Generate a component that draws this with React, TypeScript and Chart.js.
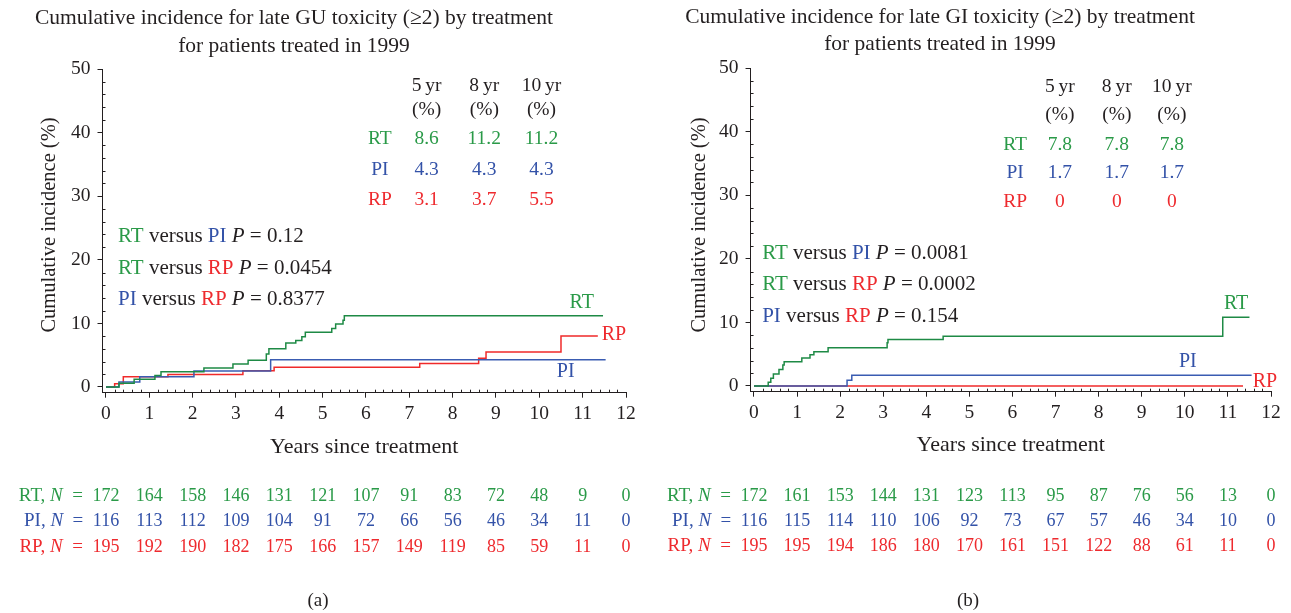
import React, { useEffect, useRef } from 'react';
import { Chart, registerables } from 'chart.js';

Chart.register(...registerables);

// ---------- data ----------
const yearTicks = [0, 1, 2, 3, 4, 5, 6, 7, 8, 9, 10, 11, 12];
const incidenceTicks = [0, 10, 20, 30, 40, 50];
const pctHeaders = ['5\u2009yr', '8\u2009yr', '10\u2009yr'];
const groupNames = ['RT', 'PI', 'RP'];

// GU panel (a)
const guRtTimes = [0, 0.3, 0.65, 1.13, 1.27, 2.26, 2.93, 3.28, 3.7, 3.76, 4.15, 4.38, 4.52, 4.6, 5.21, 5.3, 5.47, 5.5, 11.47];
const guRtValues = [0, 0.6, 1.2, 1.8, 2.4, 3.0, 3.6, 4.2, 5.2, 6.0, 6.9, 7.3, 7.9, 8.6, 9.2, 9.9, 10.5, 11.2, 11.2];
const guPiTimes = [0, 0.3, 0.78, 2.03, 3.8, 11.53];
const guPiValues = [0, 0.8, 1.6, 2.5, 4.3, 4.3];
const guRpTimes = [0, 0.2, 0.4, 1.43, 3.16, 3.88, 7.24, 8.6, 8.77, 10.5, 11.35];
const guRpValues = [0, 0.5, 1.6, 1.95, 2.55, 3.1, 3.7, 4.5, 5.5, 8.0, 8.0];
const guRtRisk = [172, 164, 158, 146, 131, 121, 107, 91, 83, 72, 48, 9, 0];
const guPiRisk = [116, 113, 112, 109, 104, 91, 72, 66, 56, 46, 34, 11, 0];
const guRpRisk = [195, 192, 190, 182, 175, 166, 157, 149, 119, 85, 59, 11, 0];
const guRtPct = ['8.6', '11.2', '11.2'];
const guPiPct = ['4.3', '4.3', '4.3'];
const guRpPct = ['3.1', '3.7', '5.5'];
const guPValues = ['0.12', '0.0454', '0.8377'];

// GI panel (b)
const giRtTimes = [0, 0.33, 0.39, 0.45, 0.58, 0.67, 0.7, 1.11, 1.3, 1.39, 1.72, 3.09, 3.11, 4.39, 10.88, 11.5];
const giRtValues = [0, 0.6, 1.2, 1.9, 2.6, 3.3, 3.8, 4.4, 4.9, 5.4, 6.0, 6.8, 7.3, 7.8, 10.8, 10.8];
const giPiTimes = [0, 2.16, 2.27, 11.55];
const giPiValues = [0, 0.9, 1.7, 1.7];
const giRpTimes = [0, 11.35];
const giRpValues = [0, 0];
const giRtRisk = [172, 161, 153, 144, 131, 123, 113, 95, 87, 76, 56, 13, 0];
const giPiRisk = [116, 115, 114, 110, 106, 92, 73, 67, 57, 46, 34, 10, 0];
const giRpRisk = [195, 195, 194, 186, 180, 170, 161, 151, 122, 88, 61, 11, 0];
const giRtPct = ['7.8', '7.8', '7.8'];
const giPiPct = ['1.7', '1.7', '1.7'];
const giRpPct = ['0', '0', '0'];
const giPValues = ['0.0081', '0.0002', '0.154'];

// ---------- styles ----------
const FAMILY = "'Liberation Serif', 'Times New Roman', serif";
const BLACK = '#231f20';
const TEXT_COLORS = ['#2a9a48', '#3352a8', '#ee2a2e'];
const LINE_COLORS = ['#1e8a45', '#3a5cb2', '#f02a2a'];
const H = 613;
const XH = 40;

type Seg = { t: string; c: string; i?: boolean };

function drawSegs(ctx: CanvasRenderingContext2D, segs: Seg[], x: number, y: number, align: 'left' | 'right' | 'center', size: number) {
  const fonts = segs.map((s) => `${s.i ? 'italic ' : ''}${size}px ${FAMILY}`);
  const widths = segs.map((s, k) => {
    ctx.font = fonts[k];
    return ctx.measureText(s.t).width;
  });
  const total = widths.reduce((a, b) => a + b, 0);
  let cx = align === 'left' ? x : align === 'right' ? x - total : x - total / 2;
  ctx.textAlign = 'left';
  ctx.textBaseline = 'middle';
  segs.forEach((s, k) => {
    ctx.font = fonts[k];
    ctx.fillStyle = s.c;
    ctx.fillText(s.t, cx, y);
    cx += widths[k];
  });
}

type Panel = {
  w: number;
  areaLeft: number;
  areaRight: number;
  areaTop: number;
  areaBottom: number;
  titles: string[];
  titleX: number;
  titleY: number[];
  yTitleX: number;
  yTitleY: number;
  xTitleY: number;
  caption: string;
  captionX: number;
  captionY: number;
  series: { times: number[]; values: number[] }[];
  risk: number[][];
  riskY: number[];
  pct: string[][];
  pctColX: number[];
  pctRowLabelX: number;
  pctHeadY: number[];
  pctRowY: number[];
  pValues: string[];
  pX: number;
  pY: number[];
  curveLabels: { x: number; y: number }[];
};

const pComparisons: [number, number][] = [
  [0, 1],
  [0, 2],
  [1, 2],
];

function overlay(panel: Panel) {
  return {
    id: 'overlay',
    afterDraw(chart: any) {
      const ctx: CanvasRenderingContext2D = chart.ctx;
      const xs = chart.scales.x;
      const ys = chart.scales.y;
      const area = chart.chartArea;
      ctx.save();
      // minor ticks
      ctx.strokeStyle = BLACK;
      ctx.lineWidth = 1;
      ctx.beginPath();
      for (let k = 1; k < 60; k++) {
        if (k % 5 === 0) continue;
        const px = Math.round(xs.getPixelForValue(k * 0.2)) + 0.5;
        ctx.moveTo(px, area.bottom);
        ctx.lineTo(px, area.bottom - 3);
      }
      for (let k = 1; k < 25; k++) {
        if (k % 5 === 0) continue;
        const py = Math.round(ys.getPixelForValue(k * 2)) + 0.5;
        ctx.moveTo(area.left, py);
        ctx.lineTo(area.left + 3, py);
      }
      ctx.stroke();

      // titles
      ctx.fillStyle = BLACK;
      ctx.textAlign = 'center';
      ctx.textBaseline = 'middle';
      ctx.font = `21.5px ${FAMILY}`;
      panel.titles.forEach((t, k) => ctx.fillText(t, panel.titleX, panel.titleY[k]));
      // x title
      ctx.font = `22px ${FAMILY}`;
      ctx.fillText('Years since treatment', (area.left + area.right) / 2, panel.xTitleY);
      // y title
      ctx.font = `20.5px ${FAMILY}`;
      ctx.save();
      ctx.translate(panel.yTitleX, panel.yTitleY);
      ctx.rotate(-Math.PI / 2);
      ctx.fillText('Cumulative incidence (%)', 0, 0);
      ctx.restore();
      // caption
      ctx.font = `19px ${FAMILY}`;
      ctx.fillText(panel.caption, panel.captionX, panel.captionY);

      // percent table
      ctx.font = `19.5px ${FAMILY}`;
      pctHeaders.forEach((h, k) => {
        const cx = xs.getPixelForValue(panel.pctColX[k]);
        ctx.fillStyle = BLACK;
        ctx.fillText(h, cx, ys.getPixelForValue(panel.pctHeadY[0]));
        ctx.fillText('(%)', cx, ys.getPixelForValue(panel.pctHeadY[1]));
      });
      panel.pct.forEach((row, r) => {
        const py = ys.getPixelForValue(panel.pctRowY[r]);
        ctx.fillStyle = TEXT_COLORS[r];
        ctx.fillText(groupNames[r], xs.getPixelForValue(panel.pctRowLabelX), py);
        row.forEach((v, k) => ctx.fillText(v, xs.getPixelForValue(panel.pctColX[k]), py));
      });

      // p-values
      panel.pValues.forEach((p, k) => {
        const [a, b] = pComparisons[k];
        drawSegs(
          ctx,
          [
            { t: groupNames[a], c: TEXT_COLORS[a] },
            { t: ' versus ', c: BLACK },
            { t: groupNames[b], c: TEXT_COLORS[b] },
            { t: ' ', c: BLACK },
            { t: 'P', c: BLACK, i: true },
            { t: ' = ' + p, c: BLACK },
          ],
          xs.getPixelForValue(panel.pX),
          ys.getPixelForValue(panel.pY[k]),
          'left',
          21
        );
      });

      // curve labels
      ctx.font = `20px ${FAMILY}`;
      ctx.textAlign = 'center';
      panel.curveLabels.forEach((l, k) => {
        ctx.fillStyle = TEXT_COLORS[k];
        ctx.fillText(groupNames[k], xs.getPixelForValue(l.x), ys.getPixelForValue(l.y));
      });

      // numbers at risk
      const rs = 18;
      panel.risk.forEach((row, r) => {
        const y = panel.riskY[r];
        ctx.font = `${rs}px ${FAMILY}`;
        ctx.textAlign = 'center';
        ctx.textBaseline = 'middle';
        ctx.fillStyle = TEXT_COLORS[r];
        row.forEach((n, k) => ctx.fillText(String(n), xs.getPixelForValue(yearTicks[k]), y));
        const firstW = ctx.measureText(String(row[0])).width;
        drawSegs(
          ctx,
          [
            { t: groupNames[r] + ', ', c: TEXT_COLORS[r] },
            { t: 'N', c: TEXT_COLORS[r], i: true },
            { t: '\u2002=\u2002', c: TEXT_COLORS[r] },
          ],
          xs.getPixelForValue(yearTicks[0]) - firstW / 2,
          y,
          'right',
          19
        );
      });
      ctx.restore();
    },
  };
}

function buildChart(canvas: HTMLCanvasElement, panel: Panel) {
  const tickFont = { family: FAMILY, size: 19.5 };
  const datasets = panel.series.map((s, k) => ({
    label: groupNames[k],
    data: s.times.map((t, i) => ({ x: t, y: s.values[i] })),
    borderColor: LINE_COLORS[k],
    borderWidth: 1.5,
    pointRadius: 0,
    stepped: 'before' as const,
    fill: false,
  }));
  return new Chart(canvas, {
    type: 'line',
    data: { datasets },
    options: {
      responsive: false,
      animation: false,
      layout: {
        padding: {
          left: 0,
          top: panel.areaTop,
          right: panel.w - panel.areaRight,
          bottom: H - panel.areaBottom - XH,
        },
      },
      plugins: { legend: { display: false }, tooltip: { enabled: false }, title: { display: false } },
      scales: {
        x: {
          type: 'linear',
          min: -0.08,
          max: 12,
          afterBuildTicks: (s: any) => {
            s.ticks = yearTicks.map((v) => ({ value: v }));
          },
          afterFit: (s: any) => {
            s.height = XH;
          },
          ticks: { font: tickFont, color: BLACK, padding: 4, maxRotation: 0, autoSkip: false },
          grid: { drawOnChartArea: false, drawTicks: true, tickLength: 5, color: BLACK },
          border: { display: true, color: BLACK, width: 1 },
        },
        y: {
          type: 'linear',
          min: -0.9,
          max: 50,
          afterBuildTicks: (s: any) => {
            s.ticks = incidenceTicks.map((v) => ({ value: v }));
          },
          afterFit: (s: any) => {
            s.width = panel.areaLeft;
          },
          ticks: { font: tickFont, color: BLACK, padding: 7 },
          grid: { drawOnChartArea: false, drawTicks: true, tickLength: 5, color: BLACK },
          border: { display: true, color: BLACK, width: 1 },
        },
      },
    },
    plugins: [overlay(panel)],
  } as any);
}

const panelA: Panel = {
  w: 645,
  areaLeft: 102.5,
  areaRight: 626,
  areaTop: 69,
  areaBottom: 392.7,
  titles: ['Cumulative incidence for late GU toxicity (\u22652) by treatment', 'for patients treated in 1999'],
  titleX: 294,
  titleY: [18, 46],
  yTitleX: 50,
  yTitleY: 225,
  xTitleY: 447,
  caption: '(a)',
  captionX: 318,
  captionY: 601,
  series: [
    { times: guRtTimes, values: guRtValues },
    { times: guPiTimes, values: guPiValues },
    { times: guRpTimes, values: guRpValues },
  ],
  risk: [guRtRisk, guPiRisk, guRpRisk],
  riskY: [496, 521, 547],
  pct: [guRtPct, guPiPct, guRpPct],
  pctColX: [7.4, 8.73, 10.05],
  pctRowLabelX: 6.32,
  pctHeadY: [47.3, 43.6],
  pctRowY: [39.0, 34.1, 29.4],
  pValues: guPValues,
  pX: 0.28,
  pY: [23.7, 18.7, 13.8],
  curveLabels: [
    { x: 10.98, y: 13.2 },
    { x: 10.61, y: 2.36 },
    { x: 11.72, y: 8.2 },
  ],
};

const panelB: Panel = {
  w: 646,
  areaLeft: 105.55,
  areaRight: 626,
  areaTop: 68,
  areaBottom: 391.7,
  titles: ['Cumulative incidence for late GI toxicity (\u22652) by treatment', 'for patients treated in 1999'],
  titleX: 295,
  titleY: [17, 44],
  yTitleX: 55,
  yTitleY: 225,
  xTitleY: 445,
  caption: '(b)',
  captionX: 323,
  captionY: 601,
  series: [
    { times: giRtTimes, values: giRtValues },
    { times: giPiTimes, values: giPiValues },
    { times: giRpTimes, values: giRpValues },
  ],
  risk: [giRtRisk, giPiRisk, giRpRisk],
  riskY: [496, 521, 546],
  pct: [giRtPct, giPiPct, giRpPct],
  pctColX: [7.1, 8.42, 9.7],
  pctRowLabelX: 6.06,
  pctHeadY: [47.0, 42.6],
  pctRowY: [37.9, 33.5, 28.9],
  pValues: giPValues,
  pX: 0.19,
  pY: [20.9, 15.9, 11.0],
  curveLabels: [
    { x: 11.19, y: 12.9 },
    { x: 10.07, y: 3.8 },
    { x: 11.86, y: 0.6 },
  ],
};

function PanelCanvas({ panel, left }: { panel: Panel; left: number }) {
  const ref = useRef<HTMLCanvasElement>(null);
  useEffect(() => {
    const chart = buildChart(ref.current as HTMLCanvasElement, panel);
    return () => chart.destroy();
  }, [panel]);
  return (
    <canvas
      ref={ref}
      width={panel.w}
      height={H}
      style={{ position: 'absolute', left, top: 0, width: panel.w, height: H }}
    />
  );
}

export default function App() {
  return (
    <div style={{ position: 'absolute', left: 0, top: 0, width: 1291, height: H, background: '#ffffff' }}>
      <PanelCanvas panel={panelA} left={0} />
      <PanelCanvas panel={panelB} left={645} />
    </div>
  );
}
